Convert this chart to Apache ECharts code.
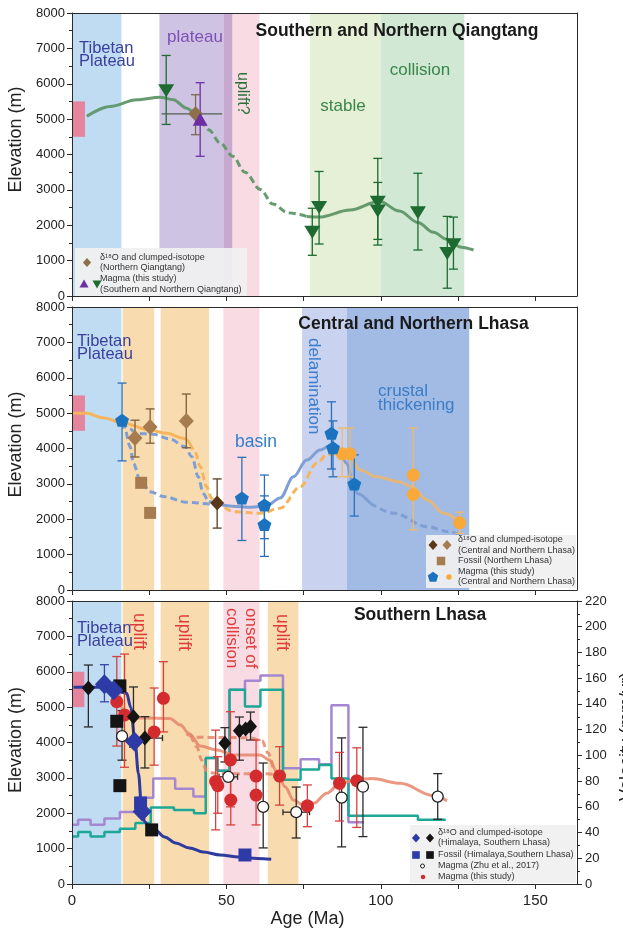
<!DOCTYPE html>
<html>
<head>
<meta charset="utf-8">
<title>Elevation history of the Tibetan Plateau</title>
<script src="https://cdn.jsdelivr.net/npm/echarts@6/dist/echarts.min.js"></script>
<style>
  html, body { margin: 0; padding: 0; background: #fff; }
  #chart { width: 623px; height: 928px; }
</style>
</head>
<body>
<div id="chart"></div>
<script>
// ===================== data =====================
// Age axis (Ma) and tick labels
const ageTicks = [0, 25, 50, 75, 100, 125, 150];
const ageTickLabels = [0, 50, 100, 150];
const elevationTicks = [0, 1000, 2000, 3000, 4000, 5000, 6000, 7000, 8000];
const velocityTicks = [0, 20, 40, 60, 80, 100, 120, 140, 160, 180, 200, 220];

// Shaded age intervals: [from, to, kind]
const qtBands = [[0, 16, 'plateau'], [28.3, 49, 'purple'], [49, 52, 'mauve'], [52, 60.7, 'pink'], [77, 100, 'stable'], [100, 127, 'collision']];
const lhBands = [[0, 16, 'plateau'], [16.4, 26.6, 'uplift'], [28.7, 44.4, 'uplift'], [49, 60.7, 'pink'], [74.5, 89, 'delam'], [89, 128.6, 'thick']];
const slBands = [[0, 16, 'plateau'], [16.4, 26.6, 'uplift'], [28.7, 44.4, 'uplift'], [49, 60.7, 'pink'], [63.4, 73.3, 'uplift']];

// Present-day elevation range: [age0, age1, low, high]
const qtModern = [[0.3, 4.2, 4500, 5500]];
const lhModern = [[0.3, 4.2, 4500, 5500]];
const slModern = [[0.3, 4.0, 5000, 6000]];

// ---- Southern and Northern Qiangtang ---- [age, elevation, low, high, ageLow, ageHigh]
const qtMagmaSN = [[30.5, 5800, 4850, 6800], [77.8, 1800, 1150, 2480], [80, 2500, 1470, 3520],
  [99, 2650, 1440, 3890], [99, 2400, 1600, 3210], [112, 2350, 1300, 3470],
  [121.5, 1200, 220, 2250], [123.5, 1450, 760, 2230]];
const qtMagmaN = [[41.5, 5000, 3950, 6030]];
const qtIsotope = [[40, 5150, 4560, 5690, 29, 48.6]];
const qtTrendA = [[4.8, 5080], [12.3, 5360], [21, 5550], [28.5, 5620], [32.8, 5550], [37.1, 5310], [40.4, 5130], [42, 4980]];
const qtTrendGap = [[42, 4980], [44.2, 4700], [48, 4330], [52, 3950], [56, 3500], [61, 3010], [65, 2600], [70, 2350], [76, 2250]];
const qtTrendB = [[76, 2250], [80, 2230], [90, 2430], [99.5, 2680], [106, 2400], [112, 2080], [117, 1800], [121.5, 1600], [126, 1380], [130, 1300]];

// ---- Central and Northern Lhasa ----
const lhMagmaBlue = [[16.2, 4800, 3650, 5850], [55, 2600, 1400, 3750], [62.3, 2400, 1450, 3250], [62.3, 1850, 950, 2660],
  [84, 4430, 3420, 5320], [84.5, 4020, 3200, 4780], [91.4, 3000, 2090, 3820]];
const lhMagmaOrange = [[87.5, 3850, 3200, 4580], [90, 3850, 3200, 4580], [110.5, 3250, 2700, 4580], [110.5, 2700, 1700, 3250], [125.5, 1900, 1600, 2200]];
const lhIsotopeLight = [[20.4, 4300, 3760, 4800], [25.3, 4610, 4150, 5120], [37, 4780, 4020, 5540]];
const lhIsotopeDark = [[47, 2460, 1750, 3140]];
const lhFossil = [[22.4, 3030], [25.3, 2180]];
const lhOrangeA = [[0, 5000], [4.8, 4995], [10, 4870], [16.2, 4730], [25.3, 4520], [30.7, 4430], [36, 4290], [38.2, 4150]];
const lhOrangeGap = [[38.2, 4150], [39.8, 3910], [41.5, 3490], [43.6, 2920], [45.2, 2590], [47.4, 2400], [52.3, 2215], [61, 2170],
  [67.4, 2310], [73.9, 2920], [79.3, 3580], [82.5, 3820], [86.3, 3865]];
const lhOrangeB = [[86.3, 3865], [88.5, 3860], [90, 3750], [93.3, 3390], [98.7, 3200], [106, 3060], [110, 2920], [115, 2545], [120.3, 2170], [125.7, 1900]];
const lhBlueGapLow = [[16.2, 4750], [17.2, 4520], [18.8, 4050], [19.9, 3580], [22, 3110], [25.3, 2780], [29.6, 2640], [37.2, 2480], [45.8, 2430], [47, 2430]];
const lhBlueGapHigh = [[16.2, 4750], [18.5, 4560], [21, 4430], [26.3, 4400], [31.7, 4270], [36.6, 4050], [38.8, 3770], [40.9, 3200], [42.5, 2730], [44.2, 2500], [47, 2430]];
const lhBlueA = [[47, 2430], [52, 2370], [58, 2340], [63, 2380], [67.4, 2600], [71.7, 3200], [76, 3675], [80.3, 3960], [84, 4100],
  [86.2, 3960], [89, 3580], [90.6, 3110], [92.3, 2730], [96.6, 2450]];
const lhBlueGap = [[96.6, 2450], [104.2, 2170], [115, 1790], [122, 1650], [126, 1550]];

// ---- Southern Lhasa ----
const slIsotopeHim = [[10.5, 5650, 5150, 6200], [13.5, 5480], [20.2, 4030], [22.7, 2050]];
const slIsotopeSL = [[5.3, 5540, 4440, 6190], [19.9, 4730, 3870, 5570], [23.6, 4125, 3280, 4730, 20.8, 29.3],
  [49.5, 3980, 3450, 4420], [54.2, 4330, 3500, 4720], [56.2, 4380], [57.8, 4450, 4070, 4860]];
const slFossilHim = [[22.2, 2290], [56, 820]];
const slFossilSL = [[15.5, 5600], [14.5, 4600], [15.5, 2780], [25.8, 1530]];
const slMagmaZhu = [[16.2, 4180, 3500, 4900], [50.6, 3030, null, null, 47.6, 53.6], [61.9, 2180, 1020, 3420],
  [72.6, 2030, 1300, 2740, 68.3, 76.9], [87.3, 2440, 1050, 4130, 85.8, 88.8], [94.2, 2750, 1340, 4430, 92.8, 95.6], [118.4, 2470, 1830, 3120]];
const slMagmaThis = [[14.5, 5155, 3900, 6430], [17, 4780, 3300, 6500], [26.6, 4300, 3360, 5540], [29.6, 5250, 4300, 6285],
  [46.5, 2900, 1530, 4350], [47.2, 2780, 2000, 3600], [51.3, 3505, 2180, 4870], [51.4, 2375, 1670, 3000],
  [59.6, 3050, 1670, 4070], [59.6, 2515], [67.2, 3050, 2230, 3880], [76.2, 2210, 1620, 2800, 74.4, 78],
  [86.6, 2845, 1780, 3720], [92.2, 2920, 1600, 3850]];
const slHimTrend = [[0.5, 5560], [5, 5570], [10, 5560], [14, 5500], [16, 5420], [17.7, 5390], [19, 5000], [20.4, 4020], [21.5, 3130],
  [22.6, 2090], [23.6, 1750], [25, 1620], [26.9, 1530], [30, 1330], [33.5, 1160], [38, 1020], [42.5, 905], [48, 820], [54, 760], [60, 720], [64.5, 700]];
const slMagmaTrend = [[14.5, 5600], [15.5, 5300], [16.6, 4800], [18, 4700], [24, 4690], [31.7, 4680], [35, 4500], [38, 4250], [41.5, 3900],
  [46.9, 3790], [52.3, 3650], [60.9, 3650], [64.1, 3500], [66.3, 3175], [69, 2750], [71.7, 2375], [74.9, 2230], [78.2, 2280],
  [82.5, 2565], [86.8, 2845], [92.2, 2950], [97, 2980], [106.3, 2845], [117, 2500], [121.4, 2350]];
const slMagmaAltHigh = [[37, 4250], [40, 4150], [45, 4140], [52, 4140], [58, 4130], [61.5, 4050], [63.5, 3700], [65.5, 3250], [67, 3050]];
const slMagmaAltLow = [[38.5, 4200], [40.4, 3880], [42, 3500], [43.6, 3200], [46, 3130], [52, 3120], [58, 3120], [63, 3120], [65.5, 3100], [67, 3050]];
// Convergence velocity (mm/yr), each value held until the next age
const velocityA = [[0, 37], [2, 40.5], [6, 37], [10.5, 40.5], [15.5, 43], [20.5, 47.5], [25.5, 59.5], [33, 57.5], [39.5, 55],
  [43.3, 98], [47, 88], [51, 151], [56, 138], [61, 151], [68.3, 81], [74, 89], [80, 92.5], [84, 82], [89.5, 53], [112, 50], [121, 50]];
const velocityB = [[0, 46], [2, 50], [6, 46], [10.5, 51], [15.5, 56], [21, 67], [26.3, 82], [33.4, 74], [39.3, 68],
  [43.3, 98], [47, 88], [51, 151], [56, 158], [61, 162], [68.3, 90], [74, 97], [80, 93], [84, 139], [89.5, 48], [94.5, 48]];

// ===================== styles =====================
const FONT = '"Liberation Sans", Arial, Helvetica, sans-serif';
const bandColor = {
  plateau: '#bfdcf3', purple: '#cfc3e4', mauve: '#c7a9d0', pink: '#f9dbe3',
  stable: '#e5f0d6', collision: '#d1e8d4', uplift: '#f8dcb0', delam: '#c9d2ee', thick: '#a2bbe4'
};
const C = {
  modern: '#e4849f', green: '#1d6b31', greenLine: '#5e9667', purpleMk: '#6d2ea3', brown: '#8d6f4d',
  blueMk: '#1b73c0', orangeMk: '#f8a93a', orangeLine: '#f6b55c', blueLine: '#7f9fd4',
  lightBrown: '#a67b4f', darkBrown: '#5a381a', navy: '#2e3ba6', navyLine: '#2f3a9d', black: '#141414',
  red: '#d42b2e', redErr: '#d8403f', salmon: '#e6866c', teal: '#1ea797', lilac: '#a487d0'
};
const pentagon = 'path://M50,0 L97.6,34.5 L79.4,90.5 L20.6,90.5 L2.4,34.5 Z';

// ===================== builders =====================
function bandSeries(g, list) {
  return {
    type: 'custom', xAxisIndex: g, yAxisIndex: g, z: 1, silent: true,
    data: list.map(b => [b[0], b[1]]),
    renderItem: (p, api) => {
      const b = list[p.dataIndex];
      const a = api.coord([b[0], 8000]), c = api.coord([b[1], 0]);
      return { type: 'rect', shape: { x: a[0], y: a[1], width: c[0] - a[0], height: c[1] - a[1] }, style: { fill: bandColor[b[2]] } };
    }
  };
}
function boxSeries(g, list, color) {
  return {
    type: 'custom', xAxisIndex: g, yAxisIndex: g, z: 2, silent: true,
    data: list.map(b => [b[0], b[2]]),
    renderItem: (p, api) => {
      const b = list[p.dataIndex];
      const a = api.coord([b[0], b[3]]), c = api.coord([b[1], b[2]]);
      return { type: 'rect', shape: { x: a[0], y: a[1], width: c[0] - a[0], height: c[1] - a[1] }, style: { fill: color } };
    }
  };
}
function errSeries(g, list, color, opt) {
  opt = opt || {};
  const cap = opt.cap === undefined ? 4.5 : opt.cap;
  const hcap = opt.hcap === undefined ? 3 : opt.hcap;
  return {
    type: 'custom', xAxisIndex: g, yAxisIndex: g, z: opt.z || 5, silent: true,
    data: list.map(d => [d[0], d[1]]),
    renderItem: (p, api) => {
      const d = list[p.dataIndex];
      const kids = [];
      const st = { stroke: color, lineWidth: opt.width || 1.3 };
      const hst = { stroke: opt.hcolor || color, lineWidth: opt.width || 1.3 };
      const seg = (x1, y1, x2, y2, s) => kids.push({ type: 'line', shape: { x1, y1, x2, y2 }, style: s });
      if (d[2] != null && d[3] != null) {
        const a = api.coord([d[0], d[2]]), b = api.coord([d[0], d[3]]);
        seg(a[0], a[1], b[0], b[1], st);
        seg(a[0] - cap, a[1], a[0] + cap, a[1], st);
        seg(b[0] - cap, b[1], b[0] + cap, b[1], st);
      }
      if (d[4] != null && d[5] != null) {
        const a = api.coord([d[4], d[1]]), b = api.coord([d[5], d[1]]);
        seg(a[0], a[1], b[0], b[1], hst);
        if (hcap) {
          seg(a[0], a[1] - hcap, a[0], a[1] + hcap, hst);
          seg(b[0], b[1] - hcap, b[0], b[1] + hcap, hst);
        }
      }
      return { type: 'group', children: kids };
    }
  };
}
function curve(g, pts, color, opt) {
  opt = opt || {};
  return {
    type: 'line', xAxisIndex: g, yAxisIndex: opt.y === undefined ? g : opt.y, z: opt.z || 4, silent: true,
    data: pts, symbol: 'none', smooth: opt.step ? false : (opt.smooth || 0.35), smoothMonotone: 'x',
    step: opt.step || false,
    lineStyle: { color, width: opt.width || 3, type: opt.dash ? [7, 4] : 'solid', opacity: opt.opacity || 1, cap: 'butt' }
  };
}
function marks(g, pts, symbol, size, color, opt) {
  opt = opt || {};
  return {
    type: 'scatter', xAxisIndex: g, yAxisIndex: g, z: opt.z || 6, silent: true,
    data: pts.map(p => [p[0], p[1]]), symbol, symbolSize: size, symbolRotate: opt.rotate || 0,
    itemStyle: { color, borderColor: opt.border || color, borderWidth: opt.borderWidth || 0, opacity: 1 }
  };
}

// ===================== axes =====================
const gridTops = [13, 307, 601];
const grids = gridTops.map(t => ({ left: 72, top: t, width: 505, height: 283, outerBoundsMode: 'none', containLabel: false }));
const axisColor = '#2a2a2a';
const plain = v => String(v);
const xAxes = [];
const yAxes = [];
[0, 1, 2].forEach(g => {
  xAxes.push({
    type: 'value', gridIndex: g, min: 0, max: 163.5, z: 8,
    axisLine: { show: true, onZero: false, lineStyle: { color: axisColor, width: 1 } },
    axisTick: { show: true, inside: false, length: 5, customValues: ageTicks, lineStyle: { color: axisColor } },
    axisLabel: { show: g === 2, customValues: ageTickLabels, formatter: plain, fontSize: 15, margin: 9, color: '#222', fontFamily: FONT },
    splitLine: { show: false },
    name: g === 2 ? 'Age (Ma)' : '', nameLocation: 'middle', nameGap: 26,
    nameTextStyle: { fontSize: 18, color: '#222', fontFamily: FONT, padding: [0, 34, 0, 0] }
  });
});
[0, 1, 2].forEach(g => {
  xAxes.push({
    type: 'value', gridIndex: g, min: 0, max: 163.5, position: 'top', z: 8,
    axisLine: { show: true, onZero: false, lineStyle: { color: axisColor, width: 1 } },
    axisTick: { show: false }, axisLabel: { show: false }, splitLine: { show: false }
  });
});
const elevNameShift = [30, 8, 5];
[0, 1, 2].forEach(g => {
  yAxes.push({
    type: 'value', gridIndex: g, min: 0, max: 8000, interval: 1000, z: 8,
    axisLine: { show: true, onZero: false, lineStyle: { color: axisColor, width: 1 } },
    axisTick: { show: true, length: 5, customValues: elevationTicks, lineStyle: { color: axisColor } },
    minorTick: { show: true, splitNumber: 2, length: 3, lineStyle: { color: axisColor } },
    axisLabel: { fontSize: 13, margin: 7, color: '#222', fontFamily: FONT, formatter: plain },
    splitLine: { show: false }, minorSplitLine: { show: false },
    name: 'Elevation (m)', nameLocation: 'middle', nameGap: 41,
    nameTextStyle: { fontSize: 18, color: '#222', fontFamily: FONT, padding: [0, 0, 0, elevNameShift[g]] }
  });
});
yAxes.push({
  type: 'value', gridIndex: 2, min: 0, max: 220, interval: 20, position: 'right', z: 8,
  axisLine: { show: true, onZero: false, lineStyle: { color: axisColor, width: 1 } },
  axisTick: { show: true, length: 5, customValues: velocityTicks, lineStyle: { color: axisColor } },
  minorTick: { show: true, splitNumber: 2, length: 3, lineStyle: { color: axisColor } },
  axisLabel: { fontSize: 13, margin: 8, color: '#222', fontFamily: FONT, formatter: plain },
  splitLine: { show: false }, minorSplitLine: { show: false },
  name: 'Velocity (mm/yr)', nameLocation: 'middle', nameGap: 34, nameRotate: 90,
  nameTextStyle: { fontSize: 18, color: '#222', fontFamily: FONT, padding: [0, 0, 0, 12] }
});
[0, 1].forEach(g => {
  yAxes.push({
    type: 'value', gridIndex: g, min: 0, max: 8000, position: 'right', z: 8,
    axisLine: { show: true, onZero: false, lineStyle: { color: axisColor, width: 1 } },
    axisTick: { show: false }, axisLabel: { show: false }, splitLine: { show: false }
  });
});

// ===================== series =====================
const series = [
  // Southern and Northern Qiangtang
  bandSeries(0, qtBands),
  boxSeries(0, qtModern, C.modern),
  curve(0, qtTrendA, C.greenLine, { opacity: 0.95 }),
  curve(0, qtTrendGap, C.greenLine, { dash: true, opacity: 0.95 }),
  curve(0, qtTrendB, C.greenLine, { opacity: 0.95 }),
  errSeries(0, qtMagmaSN, C.green),
  errSeries(0, qtMagmaN, C.purpleMk),
  errSeries(0, qtIsotope, '#7c6a52', { hcolor: '#4d5e4e', hcap: 0 }),
  marks(0, qtIsotope, 'diamond', 15, C.brown),
  marks(0, qtMagmaN, 'triangle', [15, 13], C.purpleMk),
  marks(0, qtMagmaSN, 'triangle', [16, 13], C.green, { rotate: 180 }),

  // Central and Northern Lhasa
  bandSeries(1, lhBands),
  boxSeries(1, lhModern, C.modern),
  curve(1, lhOrangeA, C.orangeLine),
  curve(1, lhOrangeGap, C.orangeLine, { dash: true }),
  curve(1, lhOrangeB, C.orangeLine, { opacity: 0.75 }),
  curve(1, lhBlueGapLow, C.blueLine, { dash: true }),
  curve(1, lhBlueGapHigh, C.blueLine, { dash: true }),
  curve(1, lhBlueA, C.blueLine),
  curve(1, lhBlueGap, C.blueLine, { dash: true }),
  errSeries(1, lhMagmaOrange, '#f3b868'),
  errSeries(1, lhIsotopeLight, '#7d5c3b'),
  errSeries(1, lhIsotopeDark, '#5a3c22'),
  errSeries(1, lhMagmaBlue, '#2a70b8'),
  marks(1, lhFossil, 'rect', 12, C.lightBrown),
  marks(1, lhIsotopeLight, 'diamond', [15, 16], C.lightBrown),
  marks(1, lhIsotopeDark, 'diamond', [14, 15], C.darkBrown),
  marks(1, lhMagmaOrange, 'circle', 13, C.orangeMk),
  marks(1, lhMagmaBlue, pentagon, [14, 13], C.blueMk),

  // Southern Lhasa
  bandSeries(2, slBands),
  boxSeries(2, slModern, C.modern),
  curve(2, velocityB, C.lilac, { y: 3, step: 'end', width: 2.5, z: 3 }),
  curve(2, velocityA, C.teal, { y: 3, step: 'end', width: 2.5, z: 3 }),
  curve(2, slMagmaAltHigh, C.salmon, { dash: true, opacity: 0.85 }),
  curve(2, slMagmaAltLow, C.salmon, { dash: true, opacity: 0.85 }),
  curve(2, slMagmaTrend, C.salmon, { opacity: 0.85 }),
  curve(2, slHimTrend, C.navyLine),
  errSeries(2, slMagmaZhu, '#2b2b2b'),
  errSeries(2, slIsotopeSL, '#2b2b2b'),
  errSeries(2, slIsotopeHim, '#3a46a8'),
  errSeries(2, slMagmaThis, C.redErr),
  marks(2, slMagmaThis, 'circle', 13, C.red),
  marks(2, slFossilSL, 'rect', 13, C.black),
  marks(2, slFossilHim, 'rect', 13, C.navy),
  marks(2, slIsotopeSL, 'diamond', [13, 15], C.black),
  marks(2, slIsotopeHim, 'diamond', [19, 20], C.navy),
  marks(2, slMagmaZhu, 'circle', 11, '#ffffff', { border: '#222', borderWidth: 1.3 })
];

// ===================== annotations & keys =====================
function txt(x, y, text, size, color, extra) {
  return Object.assign({
    type: 'text', x, y, z: 30, silent: true,
    style: Object.assign({ text, fill: color, fontSize: size, fontFamily: FONT, textAlign: 'left', textVerticalAlign: 'middle' }, (extra && extra.style) || {})
  }, (extra && extra.el) || {});
}
function vtxt(x, y, text, size, color, lineHeight) {
  return { type: 'text', x, y, z: 30, silent: true, rotation: -Math.PI / 2,
    style: { text, fill: color, fontSize: size, fontFamily: FONT, textAlign: 'left', textVerticalAlign: 'middle', lineHeight: lineHeight || size } };
}
function key(kind, cx, cy, s, fill, stroke) {
  const st = { fill, stroke: stroke || null, lineWidth: stroke ? 1 : 0 };
  const h = s / 2;
  if (kind === 'diamond') return { type: 'polygon', z: 32, silent: true, shape: { points: [[cx, cy - h], [cx + h * 0.9, cy], [cx, cy + h], [cx - h * 0.9, cy]] }, style: st };
  if (kind === 'up') return { type: 'polygon', z: 32, silent: true, shape: { points: [[cx, cy - h], [cx + h, cy + h * 0.8], [cx - h, cy + h * 0.8]] }, style: st };
  if (kind === 'down') return { type: 'polygon', z: 32, silent: true, shape: { points: [[cx - h, cy - h * 0.8], [cx + h, cy - h * 0.8], [cx, cy + h]] }, style: st };
  if (kind === 'square') return { type: 'rect', z: 32, silent: true, shape: { x: cx - h * 0.85, y: cy - h * 0.85, width: s * 0.85, height: s * 0.85 }, style: st };
  if (kind === 'circle') return { type: 'circle', z: 32, silent: true, shape: { cx, cy, r: h }, style: st };
  const pts = [];
  for (let i = 0; i < 5; i++) { const a = -Math.PI / 2 + i * 2 * Math.PI / 5; pts.push([cx + h * Math.cos(a), cy + h * 0.05 + h * Math.sin(a)]); }
  return { type: 'polygon', z: 32, silent: true, shape: { points: pts }, style: st };
}
function keyBox(x, y, w, h) {
  return { type: 'rect', z: 28, silent: true, shape: { x, y, width: w, height: h }, style: { fill: 'rgba(240,240,240,0.93)' } };
}
const keyText = (x, y, t) => txt(x, y, t, 9, '#333');
const navyText = '#3b3e9c';
const qtGreenText = '#38864a';
const redText = '#df3b3b';
const blueText = '#2f7fcf';

const graphics = [
  // Southern and Northern Qiangtang
  txt(79, 41.5, 'Tibetan\nPlateau', 16.5, navyText, { style: { textVerticalAlign: 'top', lineHeight: 13 } }),
  txt(195, 37, 'plateau', 17, '#7d50b5', { style: { textAlign: 'center' } }),
  vtxt(242, 72, 'uplift?', 16, '#2b7139'),
  txt(343, 106, 'stable', 17, qtGreenText, { style: { textAlign: 'center' } }),
  txt(420, 70, 'collision', 17, qtGreenText, { style: { textAlign: 'center' } }),
  txt(397, 31, 'Southern and Northern Qiangtang', 17.5, '#1a1a1a', { style: { textAlign: 'center', fontWeight: 'bold' } }),
  keyBox(75, 248, 172, 48),
  key('diamond', 87, 262.5, 9, C.brown),
  key('up', 84, 284, 9, C.purpleMk),
  key('down', 97, 284, 9, C.green),
  keyText(100, 257.5, 'δ¹⁸O and clumped-isotope'),
  keyText(100, 268, '(Northern Qiangtang)'),
  keyText(100, 278.5, 'Magma (this study)'),
  keyText(100, 289.5, '(Southern and Northern Qiangtang)'),

  // Central and Northern Lhasa
  txt(77, 334.5, 'Tibetan\nPlateau', 16.5, navyText, { style: { textVerticalAlign: 'top', lineHeight: 13 } }),
  txt(256, 442, 'basin', 17.5, blueText, { style: { textAlign: 'center' } }),
  vtxt(313.5, 338, 'delamination', 17, '#3b7dcc'),
  txt(378, 384, 'crustal\nthickening', 17, '#3b7cc6', { style: { textVerticalAlign: 'top', lineHeight: 14 } }),
  txt(413.5, 324, 'Central and Northern Lhasa', 17.5, '#1a1a1a', { style: { textAlign: 'center', fontWeight: 'bold' } }),
  keyBox(426, 535, 150, 53),
  key('diamond', 433, 545, 10, C.darkBrown),
  key('diamond', 447, 545, 10, C.lightBrown),
  key('square', 441, 561, 10, C.lightBrown),
  key('pentagon', 433, 577, 11, C.blueMk),
  key('circle', 449, 577, 5.5, C.orangeMk),
  keyText(458, 540, 'δ¹⁸O and clumped-isotope'),
  keyText(458, 550.5, '(Central and Northern Lhasa)'),
  keyText(458, 561, 'Fossil (Northern Lhasa)'),
  keyText(458, 571.5, 'Magma (this study)'),
  keyText(458, 582, '(Central and Northern Lhasa)'),

  // Southern Lhasa
  txt(77, 621.5, 'Tibetan\nPlateau', 16.5, navyText, { style: { textVerticalAlign: 'top', lineHeight: 13 } }),
  vtxt(138.5, 613, 'uplift', 17.5, redText),
  vtxt(183.5, 614, 'uplift', 17.5, redText),
  vtxt(241, 608, 'onset of\ncollision', 17, redText, 18.5),
  vtxt(282, 614, 'uplift', 17.5, redText),
  txt(420, 615.5, 'Southern Lhasa', 17.5, '#1a1a1a', { style: { textAlign: 'center', fontWeight: 'bold' } }),
  keyBox(410, 825, 166, 58),
  key('diamond', 416, 838, 9, C.navy),
  key('diamond', 430, 838, 9, C.black),
  key('square', 416, 855, 9, C.navy),
  key('square', 430, 855, 9, C.black),
  key('circle', 422.5, 866, 4, '#fff', '#222'),
  key('circle', 423, 877, 4.5, C.red),
  keyText(438, 832.5, 'δ¹⁸O and clumped-isotope'),
  keyText(438, 843, '(Himalaya, Southern Lhasa)'),
  keyText(438, 855, 'Fossil (Himalaya,Southern Lhasa)'),
  keyText(438, 866, 'Magma (Zhu et al., 2017)'),
  keyText(438, 877, 'Magma (this study)')
];

const chart = echarts.init(document.getElementById('chart'), null, { renderer: 'canvas' });
chart.setOption({
  animation: false,
  backgroundColor: '#ffffff',
  textStyle: { fontFamily: FONT },
  grid: grids,
  xAxis: xAxes,
  yAxis: yAxes,
  series,
  graphic: { elements: graphics }
});
</script>
</body>
</html>
